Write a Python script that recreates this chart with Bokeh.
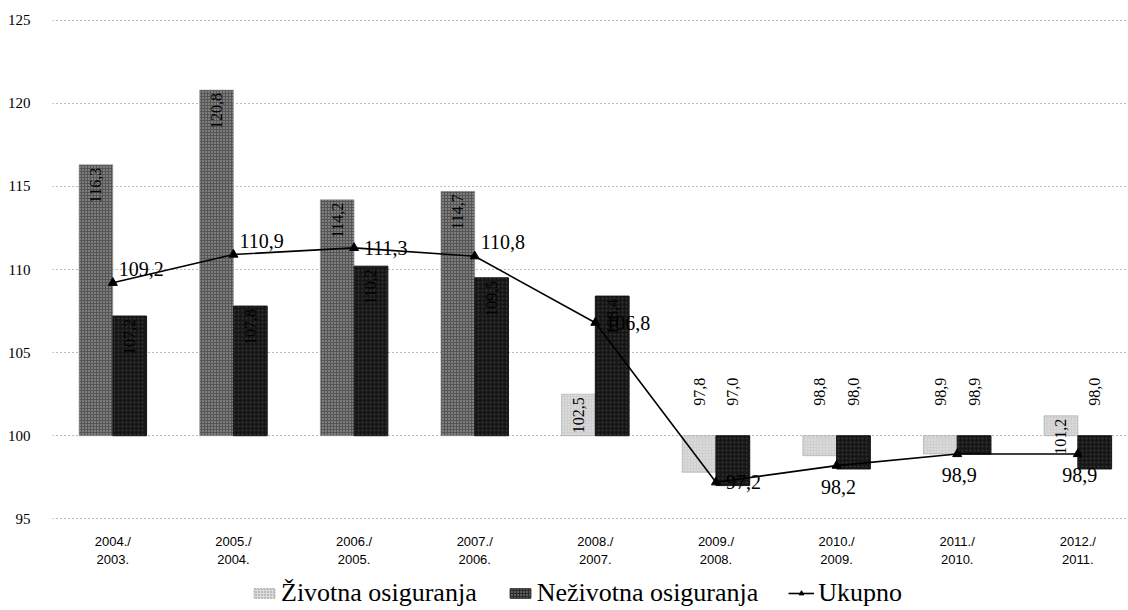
import numpy as np
from bokeh.plotting import figure
from bokeh.layouts import column
from bokeh.models import ColumnDataSource, FixedTicker, Legend, LegendItem, Range1d
from bokeh.embed import file_html
from bokeh.resources import INLINE
from bokeh.core.properties import value

# ---------------- data ----------------
categories = ["2004./\n2003.", "2005./\n2004.", "2006./\n2005.", "2007./\n2006.",
              "2008./\n2007.", "2009./\n2008.", "2010./\n2009.", "2011./\n2010.",
              "2012./\n2011."]
zivotna = [116.3, 120.8, 114.2, 114.7, 102.5, 97.8, 98.8, 98.9, 101.2]
nezivotna = [107.2, 107.8, 110.2, 109.5, 108.4, 97.0, 98.0, 98.9, 98.0]
ukupno = [109.2, 110.9, 111.3, 110.8, 106.8, 97.2, 98.2, 98.9, 98.9]
y_ticks = [95, 100, 105, 110, 115, 120, 125]
base = 100
series_names = ["Životna osiguranja", "Neživotna osiguranja", "Ukupno"]

# ---------------- styling helpers ----------------
SERIF = "Liberation Serif"
SANS = "Liberation Sans"
ukupno_label_pos = ["ne", "ne", "e", "ne", "e", "e", "s", "s", "s"]
LIFE_DARK, LIFE_LIGHT, NONLIFE = "#555555", "#cfcfcf", "#161616"


def fmt(v):
    return f"{v:.1f}".replace(".", ",")


xs = np.arange(len(categories))
bw = 0.28

p = figure(width=1128, height=575, output_backend="svg", toolbar_location=None,
           x_range=Range1d(-0.5, 8.42), y_range=Range1d(94.9, 125.1),
           min_border_left=52, min_border_right=0, min_border_top=18,
           min_border_bottom=55)
p.outline_line_color = None
p.background_fill_color = "white"

# grid
p.xgrid.grid_line_color = None
p.ygrid.grid_line_color = "#777777"
p.ygrid.grid_line_dash = "1 3"
p.ygrid.grid_line_width = 1

# axes
p.yaxis.ticker = FixedTicker(ticks=y_ticks)
p.yaxis.axis_line_color = None
p.yaxis.major_tick_line_color = None
p.yaxis.minor_tick_line_color = None
p.yaxis.major_label_text_font = SERIF
p.yaxis.major_label_text_font_size = "15px"
p.yaxis.major_label_text_color = "black"
p.yaxis.major_label_standoff = 16

p.xaxis.ticker = FixedTicker(ticks=list(xs))
p.xaxis.major_label_overrides = {int(i): c for i, c in zip(xs, categories)}
p.xaxis.axis_line_color = None
p.xaxis.major_tick_line_color = None
p.xaxis.minor_tick_line_color = None
p.xaxis.major_label_text_font = SANS
p.xaxis.major_label_text_font_size = "13px"
p.xaxis.major_label_text_color = "black"
p.xaxis.major_label_standoff = 7

# life bars (scan shows tall bars darker)
life_colors = [LIFE_DARK if abs(v - base) > 5 else LIFE_LIGHT for v in zivotna]
src_life = ColumnDataSource(dict(x=xs - bw / 2, top=zivotna, color=life_colors))
p.vbar(x="x", top="top", bottom=base, width=bw, source=src_life,
       fill_color="color", line_color="#999999", line_width=0.5,
       hatch_pattern="dot", hatch_color="white", hatch_scale=3, hatch_alpha=0.6)

src_non = ColumnDataSource(dict(x=xs + bw / 2, top=nezivotna))
p.vbar(x="x", top="top", bottom=base, width=bw, source=src_non,
       fill_color=NONLIFE, line_color=NONLIFE,
       hatch_pattern="dot", hatch_color="#555555", hatch_scale=4, hatch_alpha=0.5)


# bar value labels (rotated)
def bar_labels(xpos, vals):
    up = [i for i, v in enumerate(vals) if v >= base]
    dn = [i for i, v in enumerate(vals) if v < base]
    su = ColumnDataSource(dict(x=[xpos[i] for i in up], y=[vals[i] for i in up],
                               t=[fmt(vals[i]) for i in up]))
    p.text(x="x", y="y", text="t", source=su, angle=np.pi / 2,
           text_align="right", text_baseline="middle", y_offset=3,
           text_font=value(SERIF), text_font_size="16px", text_color="black")
    sd = ColumnDataSource(dict(x=[xpos[i] for i in dn], y=[base] * len(dn),
                               t=[fmt(vals[i]) for i in dn]))
    p.text(x="x", y="y", text="t", source=sd, angle=np.pi / 2,
           text_align="left", text_baseline="middle", y_offset=-30,
           text_font=value(SERIF), text_font_size="16px", text_color="black")


bar_labels(list(xs - bw / 2), zivotna)
bar_labels(list(xs + bw / 2), nezivotna)

# total line
src_u = ColumnDataSource(dict(x=xs, y=ukupno))
p.line(x="x", y="y", source=src_u, line_color="black", line_width=1.6)
p.scatter(x="x", y="y", source=src_u, marker="triangle", size=9,
          fill_color="black", line_color="black")

offs = {"ne": (6, -14, "left"), "e": (10, 0, "left"), "s": (2, 21, "center")}
for key, (dx, dy, al) in offs.items():
    idx = [i for i, k in enumerate(ukupno_label_pos) if k == key]
    s = ColumnDataSource(dict(x=[xs[i] for i in idx], y=[ukupno[i] for i in idx],
                              t=[fmt(ukupno[i]) for i in idx]))
    p.text(x="x", y="y", text="t", source=s, x_offset=dx, y_offset=dy,
           text_align=al, text_baseline="middle",
           text_font=value(SERIF), text_font_size="20px", text_color="black")

# ---------------- legend strip ----------------
lf = figure(width=1128, height=35, output_backend="svg", toolbar_location=None,
            x_range=Range1d(0, 1), y_range=Range1d(0, 1),
            min_border=0)
lf.outline_line_color = None
lf.axis.visible = False
lf.grid.visible = False

off = [-5]
lg_life = lf.vbar(x=off, top=[0], bottom=[0], width=0.0, fill_color="#dcdcdc",
                  line_color="#aaaaaa", line_dash="2 1",
                  hatch_pattern="dot", hatch_color="#888888", hatch_scale=3)
lg_non = lf.vbar(x=off, top=[0], bottom=[0], width=0.0, fill_color="#2a2a2a",
                 line_color="#2a2a2a", hatch_pattern="dot", hatch_color="#aaaaaa",
                 hatch_scale=3)
lg_line = lf.line(x=[-5, -5], y=[0, 0], line_color="black", line_width=1.6)
lg_mark = lf.scatter(x=off, y=[-5], marker="triangle", size=8, fill_color="black",
                     line_color="black")

legend = Legend(items=[LegendItem(label=series_names[0], renderers=[lg_life]),
                       LegendItem(label=series_names[1], renderers=[lg_non]),
                       LegendItem(label=series_names[2], renderers=[lg_line, lg_mark])],
                orientation="horizontal", location=(199, 2))
legend.label_text_font = SERIF
legend.label_text_font_size = "26px"
legend.label_text_color = "black"
legend.glyph_width = 26
legend.glyph_height = 12
legend.spacing = 30
legend.label_standoff = 4
legend.border_line_color = None
legend.background_fill_alpha = 0
legend.margin = 0
legend.padding = 2
lf.add_layout(legend)

open("out.html", "w").write(file_html(column(p, lf), INLINE))
